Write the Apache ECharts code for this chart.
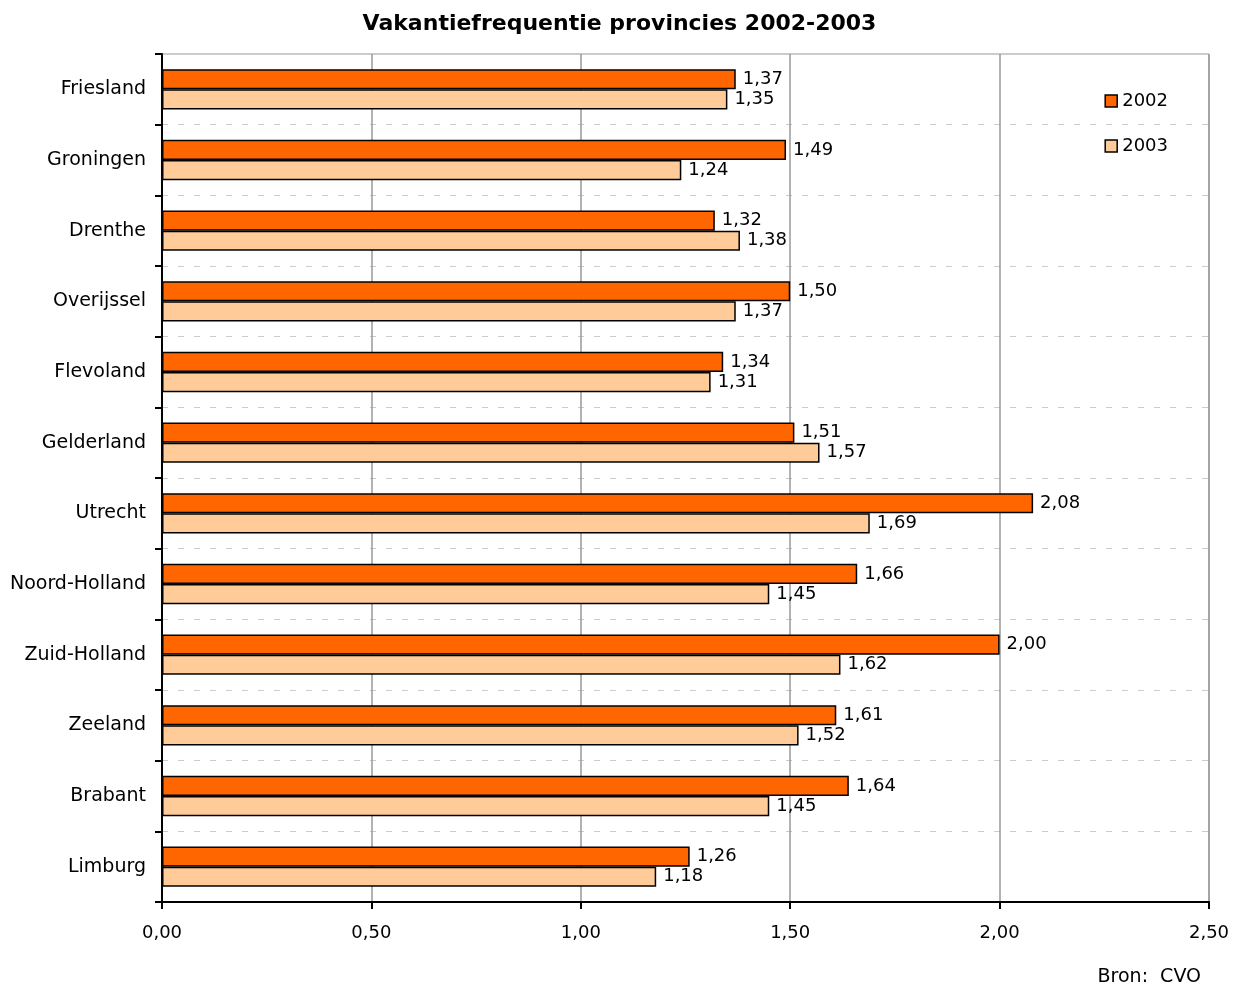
<!DOCTYPE html>
<html>
<head>
<meta charset="utf-8">
<script src="https://cdn.jsdelivr.net/npm/echarts@6/dist/echarts.min.js"></script>
<style>
  html, body { margin: 0; padding: 0; background: #fff; }
  #main { width: 1239px; height: 990px; }
</style>
</head>
<body>
<div id="main"></div>
<script>
// provinces, top to bottom
const provinces = ['Friesland', 'Groningen', 'Drenthe', 'Overijssel', 'Flevoland', 'Gelderland',
    'Utrecht', 'Noord-Holland', 'Zuid-Holland', 'Zeeland', 'Brabant', 'Limburg'];
const freq2002 = [1.37, 1.49, 1.32, 1.50, 1.34, 1.51, 2.08, 1.66, 2.00, 1.61, 1.64, 1.26];
const freq2003 = [1.35, 1.24, 1.38, 1.37, 1.31, 1.57, 1.69, 1.45, 1.62, 1.52, 1.45, 1.18];
const xTicks = [0, 0.5, 1, 1.5, 2, 2.5];

const FONT = 'DejaVu Sans';
const fmt = v => v.toFixed(2).replace('.', ',');

const barLabel = {
    show: true,
    position: 'right',
    distance: 7,
    color: '#000',
    fontFamily: FONT,
    fontSize: 18,
    formatter: p => fmt(p.value)
};

const option = {
    animation: false,
    backgroundColor: '#fff',
    title: {
        text: 'Vakantiefrequentie provincies 2002-2003',
        left: 'center',
        top: 8,
        textStyle: { fontFamily: FONT, fontSize: 22, fontWeight: 'bold', color: '#000' }
    },
    legend: {
        orient: 'vertical',
        right: 66,
        top: 87,
        itemWidth: 12,
        itemHeight: 12,
        itemGap: 27,
        textStyle: { fontFamily: FONT, fontSize: 18, color: '#000' },
        data: [
            { name: '2002', icon: 'rect', itemStyle: { color: '#ff6600', borderColor: '#000', borderWidth: 1.5 } },
            { name: '2003', icon: 'rect', itemStyle: { color: '#ffcc99', borderColor: '#000', borderWidth: 1.5 } }
        ]
    },
    grid: {
        left: 162,
        right: 30,
        top: 54,
        bottom: 88,
        show: true,
        borderColor: '#999',
        borderWidth: 1
    },
    xAxis: {
        type: 'value',
        min: xTicks[0],
        max: xTicks[xTicks.length - 1],
        interval: 0.5,
        axisLine: { show: true, lineStyle: { color: '#000', width: 2 } },
        axisTick: { show: true, length: 7, lineStyle: { color: '#000', width: 2 } },
        axisLabel: {
            margin: 22,
            color: '#000',
            fontFamily: FONT,
            fontSize: 18,
            formatter: v => fmt(v)
        },
        splitLine: { show: true, lineStyle: { color: '#999', width: 1.5 } }
    },
    yAxis: {
        type: 'category',
        inverse: true,
        data: provinces,
        axisLine: { show: true, lineStyle: { color: '#000', width: 2 } },
        axisTick: { show: true, length: 7, lineStyle: { color: '#000', width: 2 } },
        axisLabel: { margin: 16, color: '#000', fontFamily: FONT, fontSize: 19, padding: [4, 0, 0, 0] },
        splitLine: { show: true, lineStyle: { color: '#ccc', type: [6, 10], width: 1 } }
    },
    series: [
        {
            name: '2002',
            type: 'bar',
            data: freq2002,
            barGap: '0%',
            barCategoryGap: '43%',
            itemStyle: { color: '#ff6600', borderColor: '#000', borderWidth: 1.5 },
            label: barLabel
        },
        {
            name: '2003',
            type: 'bar',
            data: freq2003,
            itemStyle: { color: '#ffcc99', borderColor: '#000', borderWidth: 1.5 },
            label: barLabel
        }
    ],
    graphic: [
        {
            type: 'text',
            right: 38,
            top: 968,
            style: { text: 'Bron:  CVO', font: '19px "DejaVu Sans"', fill: '#000' }
        }
    ]
};

const myChart = echarts.init(document.getElementById('main'));
myChart.setOption(option);
</script>
</body>
</html>
